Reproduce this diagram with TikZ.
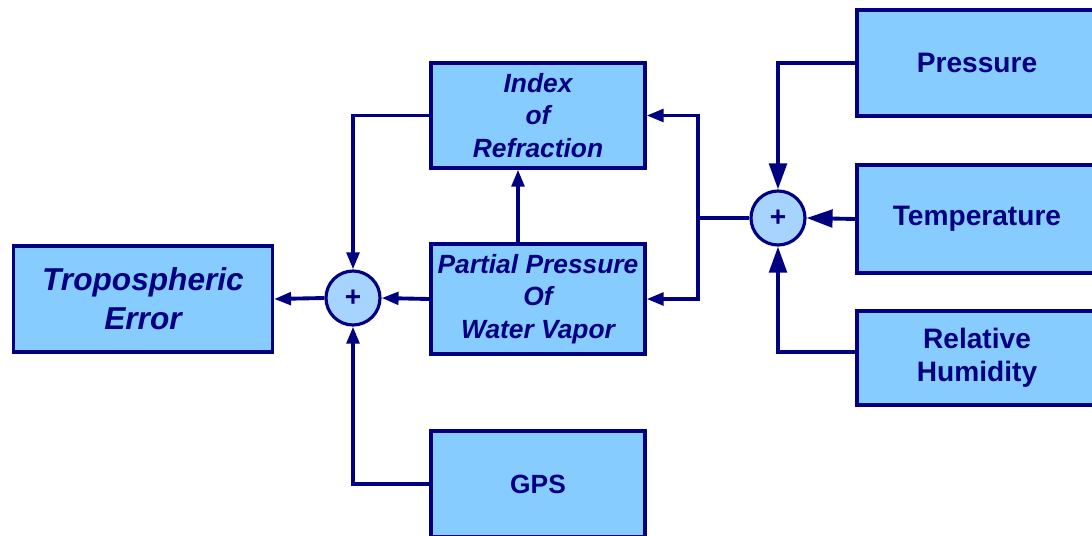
\documentclass[tikz,border=0pt]{standalone}
\usepackage{fontspec}
\setsansfont{Liberation Sans}
\usetikzlibrary{arrows.meta}
\definecolor{navy}{RGB}{0,0,128}
\definecolor{boxblue}{RGB}{135,204,255}
\definecolor{sumblue}{RGB}{166,212,255}
\tikzset{
  block/.style={draw=navy, fill=boxblue, line width=1.8pt, text=navy, font=\sffamily\bfseries, align=center, inner sep=0pt},
  sum/.style={circle, draw=navy, fill=sumblue, line width=1.8pt, text=navy, minimum size=1.08cm, inner sep=0pt, font=\sffamily\bfseries\fontsize{16}{16}\selectfont},
  wire/.style={draw=navy, line width=2.2pt},
  arr/.style={wire, -{Triangle[length=0.34cm,width=0.25cm]}},
  bigarr/.style={wire, -{Triangle[length=0.52cm,width=0.35cm]}}
}
\begin{document}
\begin{tikzpicture}
    \clip (0,0) rectangle (21.84,-10.7);
    \fill[white] (0,0) rectangle (21.84,-10.7);
    %blocchi di sinistra
    \node[block, minimum width=5.18cm, minimum height=2.12cm, font=\sffamily\bfseries\itshape\fontsize{18}{22}\selectfont] (trop) at (2.86,-5.98) {Tropospheric\\Error};
    \node[sum] (sum1) at (7.06,-5.96) {+};
    %blocchi centrali
    \node[block, minimum width=4.28cm, minimum height=2.1cm, font=\sffamily\bfseries\itshape\fontsize{15}{18.5}\selectfont] (index) at (10.76,-2.31) {Index\\of\\Refraction};
    \node[block, minimum width=4.28cm, minimum height=2.2cm, font=\sffamily\bfseries\itshape\fontsize{15}{18.5}\selectfont] (partial) at (10.76,-5.98) {Partial Pressure\\Of\\Water Vapor};
    \node[block, minimum width=4.28cm, minimum height=2.12cm, font=\sffamily\bfseries\fontsize{15}{18}\selectfont] (gps) at (10.76,-9.68) {GPS};
    %blocchi di destra
    \node[sum] (sum2) at (15.56,-4.36) {+};
    \node[block, minimum width=4.8cm, minimum height=2.12cm, font=\sffamily\bfseries\fontsize{16}{19}\selectfont] (pres) at (19.54,-1.26) {Pressure};
    \node[block, minimum width=4.8cm, minimum height=2.16cm, font=\sffamily\bfseries\fontsize{16}{19}\selectfont] (temp) at (19.54,-4.38) {Temperature};
    \node[block, minimum width=4.8cm, minimum height=1.88cm, font=\sffamily\bfseries\fontsize{16}{19}\selectfont] (hum) at (19.54,-7.16) {Relative\\Humidity};
    %collegamenti
    \draw[bigarr] (pres.west) -| (sum2.north);
    \draw[bigarr] (temp.west) -- (sum2.east);
    \draw[bigarr] ([yshift=0.12cm]hum.west) -| (sum2.south);
    \coordinate (split) at (13.96,-4.36);
    \draw[wire] (sum2.west) -- (split);
    \draw[arr] (split) |- (index.east);
    \draw[arr] (split) |- (partial.east);
    \draw[arr] ([xshift=-0.4cm]partial.north) -- ([xshift=-0.4cm]index.south);
    \draw[arr] (partial.west) -- (sum1.east);
    \draw[arr] (index.west) -| (sum1.north);
    \draw[arr] (gps.west) -| (sum1.south);
    \draw[arr] (sum1.west) -- (trop.east);
\end{tikzpicture}
\end{document}
